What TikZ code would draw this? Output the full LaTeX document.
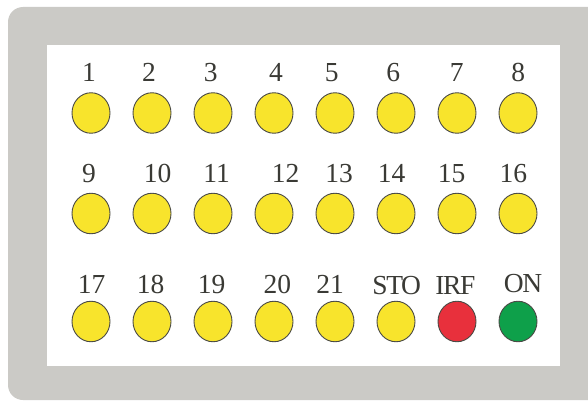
\documentclass[tikz,border=0pt]{standalone}
\usepackage{fontspec}
\usetikzlibrary{shapes.geometric}
\setmainfont{Liberation Serif}
\definecolor{framegray}{HTML}{CBCAC6}
\definecolor{ledyellow}{HTML}{F8E42C}
\definecolor{ledred}{HTML}{E8303C}
\definecolor{ledgreen}{HTML}{0EA04A}
\definecolor{txtgray}{HTML}{3A3A35}
\definecolor{edgegray}{HTML}{4A4A45}
\begin{document}
\begin{tikzpicture}[x=1pt,y=-1pt,
  led/.style={ellipse, minimum width=38pt, minimum height=40.5pt, inner sep=0pt, draw=edgegray, line width=0.9pt},
  lbl/.style={anchor=base, inner sep=0pt, text=txtgray, font=\fontsize{27.5}{27.5}\selectfont},
  lblc/.style={lbl, font=\fontsize{27.5}{27.5}\selectfont\addfontfeatures{LetterSpace=-5}}]
\useasboundingbox (0,0) rectangle (588,401);
\clip (0,0) rectangle (588,401);
\fill[framegray, rounded corners=15pt] (8,7) rectangle (640,400);
\fill[white] (47,45) rectangle (560,366);
% LEDs
\foreach \n/\x/\y/\c in {1/91/113/ledyellow,2/152/113/ledyellow,3/213/113/ledyellow,4/274/113/ledyellow,5/335/113/ledyellow,6/396/113/ledyellow,7/457/113/ledyellow,8/518/113/ledyellow,
 9/91/213.5/ledyellow,10/152/213.5/ledyellow,11/213/213.5/ledyellow,12/274/213.5/ledyellow,13/335/213.5/ledyellow,14/396/213.5/ledyellow,15/457/213.5/ledyellow,16/518/213.5/ledyellow,
 17/91/321.5/ledyellow,18/152/321.5/ledyellow,19/213/321.5/ledyellow,20/274/321.5/ledyellow,21/335/321.5/ledyellow,22/396/321.5/ledyellow,23/457/321.5/ledred,24/518/321.5/ledgreen}
  \node[led, fill=\c] (led\n) at (\x,\y) {};
% labels
\foreach \t/\x in {1/89,2/149,3/210.7,4/276,5/331.7,6/393.3,7/456.7,8/518.3}
  \node[lbl] (l\t) at (\x,81.7) {\t};
\foreach \t/\x in {9/89,10/157.7,11/216.7,12/285.7,13/339,14/391.7,15/451.7,16/513.3}
  \node[lbl] (l\t) at (\x,182.7) {\t};
\foreach \t/\x in {17/91.7,18/150.7,19/211.7,20/277.3,21/330}
  \node[lbl] (l\t) at (\x,293.3) {\t};
\node[lblc] (lsto) at (396.7,294) {STO};
\node[lblc] (lirf) at (455.3,294) {IRF};
\node[lblc] (lon) at (523,292) {ON};
\end{tikzpicture}
\end{document}
